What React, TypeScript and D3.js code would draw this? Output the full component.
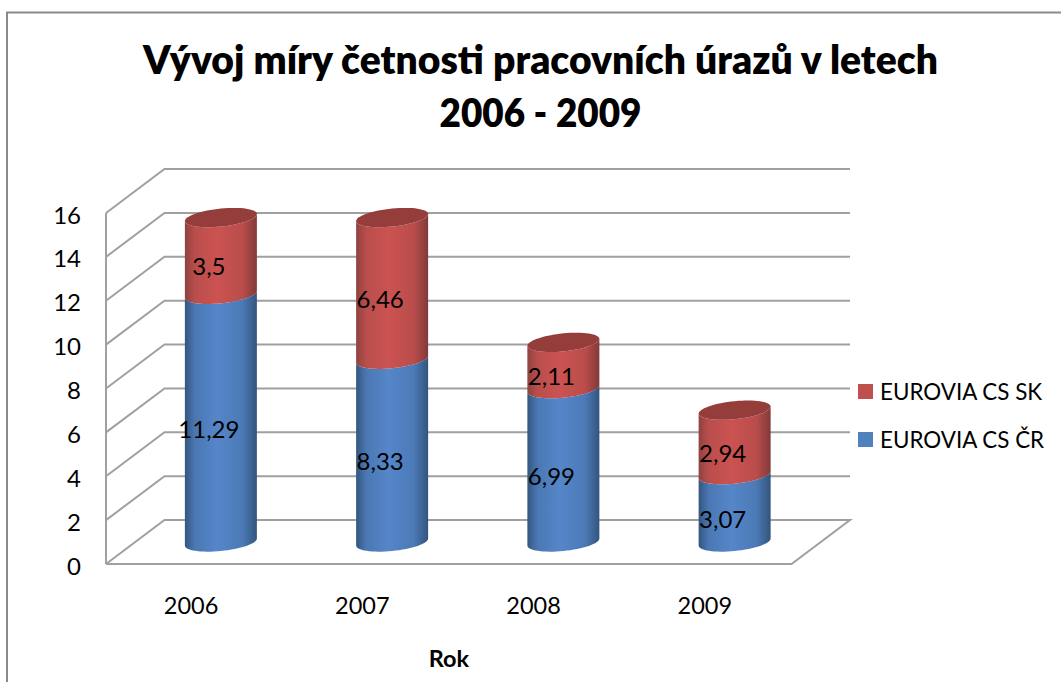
import React from "react";
import * as d3 from "d3";

const W = 1061, H = 682;
const titleLines = ["Vývoj míry četnosti pracovních úrazů v letech", "2006 - 2009"];
const titleWidths = [795, 202];
const xTitle = "Rok";
const years = ["2006", "2007", "2008", "2009"];
const cr = [11.29, 8.33, 6.99, 3.07];
const sk = [3.5, 6.46, 2.11, 2.94];
const crLabels = ["11,29", "8,33", "6,99", "3,07"];
const skLabels = ["3,5", "6,46", "2,11", "2,94"];
const yTicks = d3.range(0, 17, 2);
const legendNames = ["EUROVIA CS SK", "EUROVIA CS ČR"];

const FONT = "Lato, Carlito, 'Open Sans', sans-serif";
const DX = 58.5, DY = 44;
const x = d3.scaleBand<string>().domain(years).range([106, 791]);
const y = d3.scaleLinear().domain([0, 16]).range([564, 213]);
const RX = 36, RY = 9, TILT = 3.5;

const lp = d3.line<[number, number]>().x(d => d[0]).y(d => d[1]);
function arcPts(cx: number, cy: number, t0: number, t1: number, n = 32): [number, number][] {
  return d3.range(n + 1).map(i => {
    const t = t0 + ((t1 - t0) * i) / n;
    return [cx + RX * Math.cos(t), cy - TILT * Math.cos(t) + RY * Math.sin(t)] as [number, number];
  });
}
function bodyPath(cx: number, yBottom: number, yTop: number) {
  const bottom = arcPts(cx, yBottom, 0, Math.PI);
  const top = arcPts(cx, yTop, Math.PI, 0);
  return lp([...bottom, ...top])! + "Z";
}
function ellipsePath(cx: number, cy: number) {
  return lp(arcPts(cx, cy, 0, 2 * Math.PI, 64))! + "Z";
}
const barCx = (yr: string) => x(yr)! + x.bandwidth() / 2 + DX / 2;
const barY = (v: number) => y(v) - DY / 2;

const GRID = "#a0a0a0";

function Grad({ id, edge, mid, edge2 }: { id: string; edge: string; mid: string; edge2: string }) {
  return (
    <linearGradient id={id} x1="0" x2="1" y1="0" y2="0">
      <stop offset="0" stopColor={edge} />
      <stop offset="0.14" stopColor={d3.interpolateRgb(edge, mid)(0.7)} />
      <stop offset="0.45" stopColor={mid} />
      <stop offset="0.8" stopColor={d3.interpolateRgb(edge2, mid)(0.75)} />
      <stop offset="1" stopColor={edge2} />
    </linearGradient>
  );
}

export default function App() {
  return (
    <svg width={W} height={H} style={{ position: "fixed", left: 0, top: 0, background: "#fff" }} fontFamily={FONT}>
      <defs>
        <Grad id="blue" edge="#33567f" mid="#5586c9" edge2="#32557d" />
        <Grad id="red" edge="#8f4240" mid="#cb5351" edge2="#813a39" />
      </defs>
      <path d={`M7,682V12.5H${W}`} fill="none" stroke="#8a8a8a" strokeWidth={2} />

      {titleLines.map((t, i) => (
        <text key={t} x={540.5} y={74 + i * 53} textAnchor="middle" fontSize={39} fontWeight={800}
          textLength={titleWidths[i]} lengthAdjust="spacingAndGlyphs" fill="#000">{t}</text>
      ))}

      <g fill="none" stroke={GRID} strokeWidth={2}>
        {yTicks.map(v => (
          <path key={v} d={v === 0
            ? lp([[106, y(0)], [106 + DX, y(0) - DY], [850, y(0) - DY], [850 - DX, y(0)], [106, y(0)]])!
            : lp([[106, y(v)], [106 + DX, y(v) - DY], [850, y(v) - DY]])!} />
        ))}
        <path d={lp([[106, y(16)], [106, y(0)]])!} />
      </g>

      {years.map((yr, i) => {
        const cx = barCx(yr);
        const y0 = barY(0), y1 = barY(cr[i]), y2 = barY(cr[i] + sk[i]);
        return (
          <g key={yr}>
            <path d={bodyPath(cx, y0, y1)} fill="url(#blue)" />
            <path d={bodyPath(cx, y1, y2)} fill="url(#red)" />
            <path d={ellipsePath(cx, y2)} fill="#943d3b" />
          </g>
        );
      })}

      <g fill="#000" textAnchor="middle" dominantBaseline="central">
        {years.map((yr, i) => (
          <g key={yr}>
            <text fontSize={24} x={barCx(yr) - 12} y={barY(cr[i] / 2) + 10}>{crLabels[i]}</text>
            <text fontSize={24} x={barCx(yr) - 12} y={barY(cr[i] + sk[i] / 2) + 10}>{skLabels[i]}</text>
            <text fontSize={23.5} x={x(yr)! + x.bandwidth() / 2 - 0.5} y={605}>{yr}</text>
          </g>
        ))}
      </g>

      <g fontSize={24} fill="#000" textAnchor="end" dominantBaseline="central">
        {yTicks.map(v => <text key={v} x={81} y={y(v) + 1}>{v}</text>)}
      </g>

      <text x={449} y={658} fontSize={23.5} fontWeight={700} textAnchor="middle" dominantBaseline="central">{xTitle}</text>

      {legendNames.map((n, i) => (
        <g key={n}>
          <rect x={858} y={384 + i * 48} width={15} height={15} fill={i === 0 ? "#c0504d" : "#4f81bd"} />
          <text x={880} y={391.5 + i * 48} fontSize={22.4} dominantBaseline="central" fill="#000">{n}</text>
        </g>
      ))}
    </svg>
  );
}
